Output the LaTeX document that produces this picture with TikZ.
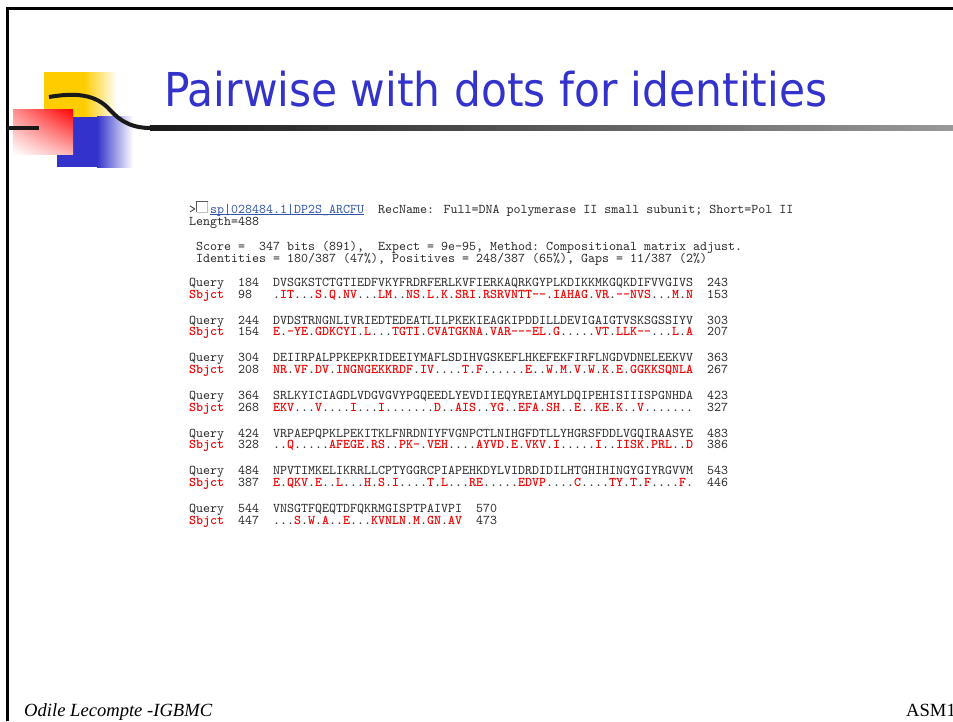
\documentclass[tikz,border=0pt]{standalone}
\usepackage{fontspec}
\usetikzlibrary{shadings}
\setmainfont{Liberation Serif}
\newfontfamily\titlefont{DejaVu Sans}
\newfontfamily\monof{lmmono10-regular.otf}
\newfontfamily\monob{lmmonolt10-bold.otf}
\definecolor{tblue}{RGB}{51,51,204}
\definecolor{dyellow}{RGB}{255,204,0}
\definecolor{sred}{RGB}{240,0,0}
\definecolor{lblue}{RGB}{51,85,170}
\definecolor{qgray}{RGB}{40,40,40}
\makeatletter
\def\sq@loop#1{\ifx#1\relax\else\ifx#1.{\monof.}\else{\monob\color{sred}#1}\fi\expandafter\sq@loop\fi}
\newcommand\sbjseq[1]{\sq@loop#1\relax}
\makeatother
\newcommand\sbjlab{{\monob\color{sred}Sbjct}}
\begin{document}
\begin{tikzpicture}[x=1pt,y=-1pt,
  aln/.style={anchor=base west,inner sep=0pt,text height=8.5pt,text depth=1.5pt,text=qgray,font=\monof\fontsize{13.33}{14}\selectfont},
  frame/.style={line width=3pt,black},
  footer/.style={anchor=base west,inner sep=0pt,font=\fontsize{18.6}{20}\selectfont}]
\useasboundingbox (0,0) rectangle (953,721);
% frame
\draw[frame] (7.7,7) -- (7.7,721);
\draw[frame] (6.2,8.7) -- (953,8.7);
% decoration squares
\fill[dyellow] (44,72) rectangle (84,118);
\shade[left color=dyellow,right color=white] (84,72) rectangle (117,118);
\fill[tblue] (57,116.5) rectangle (97,167);
\shade[left color=tblue,right color=white] (97,116) rectangle (133,167);
\shade[upper right=red,upper left=red!45!white,lower left=white,lower right=red!30!white] (13,109) rectangle (73,154);
% curve and rule
\coordinate (cs) at (49,97);
\coordinate (cm) at (110,110);
\coordinate (ce) at (151,128);
\draw[line width=4pt,black!90] (cs) .. controls (75,92.5) and (96,94) .. (cm) .. controls (123,124) and (135,128) .. (ce);
\shade[left color=black!90,right color=black!40] (150,125.5) rectangle (953,130.5);
\coordinate (la) at (7,128);
\coordinate (lb) at (39,128);
\draw[line width=4pt,black!90] (la) -- (lb);
% title
\node[anchor=base west,inner sep=0pt,text=tblue,font=\titlefont\fontsize{46.7}{50}\selectfont] (title) at (164,106) {\scalebox{0.907}[1]{Pairwise with dots for identities}};
% header
\node[aln] (gt) at (189,213) {>};
\fill[white] (196.5,201.5) rectangle (207.5,212);
\draw[black!25] (196.5,212) -- (207.5,212) -- (207.5,201.5);
\draw[black!65] (196.5,212) -- (196.5,201.5) -- (207.5,201.5);
\node[aln,text=lblue] (link) at (210,213) {sp|028484.1|DP2S\_ARCFU};
\draw[lblue,line width=0.8pt] (link.base west) ++(0,1.6) -- ([yshift=-1.6pt]link.base east);
\node[aln] (rec) at (378,213) {RecName: Full=DNA polymerase II small subunit; Short=Pol II};
\node[aln] (len) at (189,225) {Length=488};
\node[aln] (score) at (196,250.5) {Score~=~~347~bits~(891),~~Expect~=~9e-95,~Method:~Compositional~matrix~adjust.};
\node[aln] (ident) at (196,262) {Identities~=~180/387~(47\%),~Positives~=~248/387~(65\%),~Gaps~=~11/387~(2\%)};
% alignment blocks
\node[aln] (q1) at (189,286.5) {Query~~184~~DVSGKSTCTGTIEDFVKYFRDRFERLKVFIERKAQRKGYPLKDIKKMKGQKDIFVVGIVS~~243};
\node[aln] (s1) at (189,298) {\sbjlab~~98~~~\sbjseq{.IT...S.Q.NV...LM..NS.L.K.SRI.RSRVNTT--.IAHAG.VR.--NVS...M.N}~~153};
\node[aln] (q2) at (189,324.2) {Query~~244~~DVDSTRNGNLIVRIEDTEDEATLILPKEKIEAGKIPDDILLDEVIGAIGTVSKSGSSIYV~~303};
\node[aln] (s2) at (189,335.7) {\sbjlab~~154~~\sbjseq{E.-YE.GDKCYI.L...TGTI.CVATGKNA.VAR---EL.G.....VT.LLK--...L.A}~~207};
\node[aln] (q3) at (189,361.8) {Query~~304~~DEIIRPALPPKEPKRIDEEIYMAFLSDIHVGSKEFLHKEFEKFIRFLNGDVDNELEEKVV~~363};
\node[aln] (s3) at (189,373.3) {\sbjlab~~208~~\sbjseq{NR.VF.DV.INGNGEKKRDF.IV....T.F......E..W.M.V.W.K.E.GGKKSQNLA}~~267};
\node[aln] (q4) at (189,399.5) {Query~~364~~SRLKYICIAGDLVDGVGVYPGQEEDLYEVDIIEQYREIAMYLDQIPEHISIIISPGNHDA~~423};
\node[aln] (s4) at (189,411) {\sbjlab~~268~~\sbjseq{EKV...V....I...I.......D..AIS..YG..EFA.SH..E..KE.K..V.......}~~327};
\node[aln] (q5) at (189,437.2) {Query~~424~~VRPAEPQPKLPEKITKLFNRDNIYFVGNPCTLNIHGFDTLLYHGRSFDDLVGQIRAASYE~~483};
\node[aln] (s5) at (189,448.7) {\sbjlab~~328~~\sbjseq{..Q.....AFEGE.RS..PK-.VEH....AYVD.E.VKV.I.....I..IISK.PRL..D}~~386};
\node[aln] (q6) at (189,474.8) {Query~~484~~NPVTIMKELIKRRLLCPTYGGRCPIAPEHKDYLVIDRDIDILHTGHIHINGYGIYRGVVM~~543};
\node[aln] (s6) at (189,486.3) {\sbjlab~~387~~\sbjseq{E.QKV.E..L...H.S.I....T.L...RE.....EDVP....C....TY.T.F....F.}~~446};
\node[aln] (q7) at (189,512.5) {Query~~544~~VNSGTFQEQTDFQKRMGISPTPAIVPI~~570};
\node[aln] (s7) at (189,524) {\sbjlab~~447~~\sbjseq{...S.W.A..E...KVNLN.M.GN.AV}~~473};
% footer
\node[footer,font=\itshape\fontsize{18.6}{20}\selectfont] (foot) at (24,716) {Odile Lecompte -IGBMC};
\node[footer] (asm) at (906,716) {ASM1};
\end{tikzpicture}
\end{document}
